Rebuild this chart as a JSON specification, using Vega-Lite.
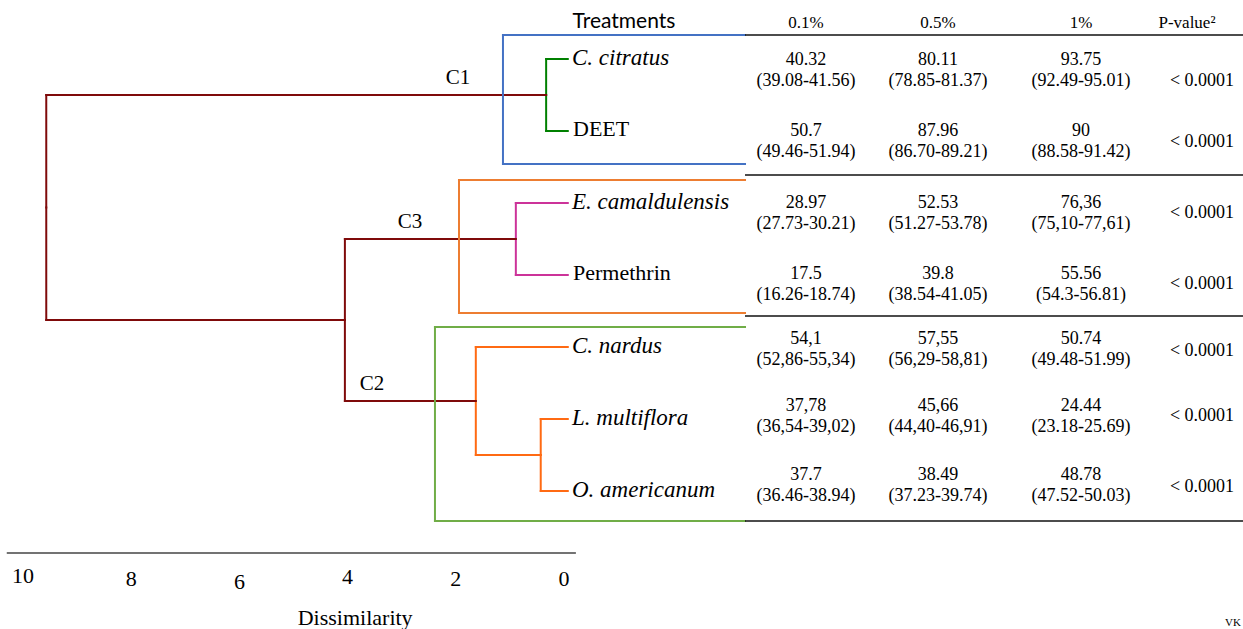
{
  "$schema": "https://vega.github.io/schema/vega-lite/v6.json",
  "width": 1243,
  "height": 629,
  "autosize": {"type": "none"},
  "padding": 0,
  "background": "white",
  "config": {"view": {"stroke": null}},
  "datasets": {
    "links": [
      {"parent": "root", "child": "N1", "grp": "root", "dp": 9.57, "up": 2.0625, "dc": 0.33, "uc": 0.5},
      {"parent": "root", "child": "N5", "grp": "root", "dp": 9.57, "up": 2.0625, "dc": 4.05, "uc": 3.625},
      {"parent": "N5", "child": "N2", "grp": "root", "dp": 4.05, "up": 3.625, "dc": 0.89, "uc": 2.5},
      {"parent": "N5", "child": "N4", "grp": "root", "dp": 4.05, "up": 3.625, "dc": 1.63, "uc": 4.75},
      {"parent": "N1", "child": "C. citratus", "grp": "C1", "dp": 0.33, "up": 0.5, "dc": -0.07, "uc": 0},
      {"parent": "N1", "child": "DEET", "grp": "C1", "dp": 0.33, "up": 0.5, "dc": -0.07, "uc": 1},
      {"parent": "N2", "child": "E. camaldulensis", "grp": "C3", "dp": 0.89, "up": 2.5, "dc": -0.07, "uc": 2},
      {"parent": "N2", "child": "Permethrin", "grp": "C3", "dp": 0.89, "up": 2.5, "dc": -0.07, "uc": 3},
      {"parent": "N4", "child": "C. nardus", "grp": "C2", "dp": 1.63, "up": 4.75, "dc": -0.07, "uc": 4},
      {"parent": "N4", "child": "N3", "grp": "C2", "dp": 1.63, "up": 4.75, "dc": 0.43, "uc": 5.5},
      {"parent": "N3", "child": "L. multiflora", "grp": "C2", "dp": 0.43, "up": 5.5, "dc": -0.07, "uc": 5},
      {"parent": "N3", "child": "O. americanum", "grp": "C2", "dp": 0.43, "up": 5.5, "dc": -0.07, "uc": 6}
    ],
    "leaves": [
      {"name": "C. citratus", "d": 0, "u": 0, "kind": "plant"},
      {"name": "DEET", "d": 0, "u": 1, "kind": "synthetic"},
      {"name": "E. camaldulensis", "d": 0, "u": 2, "kind": "plant"},
      {"name": "Permethrin", "d": 0, "u": 3, "kind": "synthetic"},
      {"name": "C. nardus", "d": 0, "u": 4, "kind": "plant"},
      {"name": "L. multiflora", "d": 0, "u": 5, "kind": "plant"},
      {"name": "O. americanum", "d": 0, "u": 6, "kind": "plant"}
    ],
    "boxes": [
      {"cluster": "C1", "left": 1.128, "right": -3.346, "top": -0.333, "bottom": 1.458, "labelD": 1.959, "nodeU": 0.5},
      {"cluster": "C3", "left": 1.941, "right": -3.346, "top": 1.681, "bottom": 3.528, "labelD": 2.847, "nodeU": 2.5},
      {"cluster": "C2", "left": 2.385, "right": -3.346, "top": 3.722, "bottom": 6.417, "labelD": 3.549, "nodeU": 4.75}
    ],
    "tableLines": [
      {"d1": -3.346, "d2": -12.6, "u": -0.333},
      {"d1": -3.346, "d2": -12.6, "u": 1.611},
      {"d1": -3.346, "d2": -12.6, "u": 3.569},
      {"d1": -3.346, "d2": -12.6, "u": 6.417}
    ],
    "scaleBar": [{"d1": 10.3, "d2": -0.22, "u": 6.861}],
    "scaleTicks": [
      {"value": 10, "u": 7.18},
      {"value": 8, "u": 7.22},
      {"value": 6, "u": 7.26},
      {"value": 4, "u": 7.2},
      {"value": 2, "u": 7.22},
      {"value": 0, "u": 7.22}
    ],
    "notes": [
      {"label": "Dissimilarity", "d": 3.86, "u": 7.764, "size": "large"},
      {"label": "VK", "d": -12.366, "u": 7.833, "size": "small"}
    ],
    "headers": [
      {"label": "Treatments", "col": 0, "row": 0},
      {"label": "0.1%", "col": 1, "row": 0},
      {"label": "0.5%", "col": 2, "row": 0},
      {"label": "1%", "col": 3, "row": 0},
      {"label": "P-value²", "col": 4, "row": 0}
    ],
    "table": [
      {"treatment": "C. citratus", "row": 1, "col": 1, "mean": "40.32", "ci": "(39.08-41.56)"},
      {"treatment": "C. citratus", "row": 1, "col": 2, "mean": "80.11", "ci": "(78.85-81.37)"},
      {"treatment": "C. citratus", "row": 1, "col": 3, "mean": "93.75", "ci": "(92.49-95.01)"},
      {"treatment": "DEET", "row": 2, "col": 1, "mean": "50.7", "ci": "(49.46-51.94)"},
      {"treatment": "DEET", "row": 2, "col": 2, "mean": "87.96", "ci": "(86.70-89.21)"},
      {"treatment": "DEET", "row": 2, "col": 3, "mean": "90", "ci": "(88.58-91.42)"},
      {"treatment": "E. camaldulensis", "row": 3, "col": 1, "mean": "28.97", "ci": "(27.73-30.21)"},
      {"treatment": "E. camaldulensis", "row": 3, "col": 2, "mean": "52.53", "ci": "(51.27-53.78)"},
      {"treatment": "E. camaldulensis", "row": 3, "col": 3, "mean": "76,36", "ci": "(75,10-77,61)"},
      {"treatment": "Permethrin", "row": 4, "col": 1, "mean": "17.5", "ci": "(16.26-18.74)"},
      {"treatment": "Permethrin", "row": 4, "col": 2, "mean": "39.8", "ci": "(38.54-41.05)"},
      {"treatment": "Permethrin", "row": 4, "col": 3, "mean": "55.56", "ci": "(54.3-56.81)"},
      {"treatment": "C. nardus", "row": 5, "col": 1, "mean": "54,1", "ci": "(52,86-55,34)"},
      {"treatment": "C. nardus", "row": 5, "col": 2, "mean": "57,55", "ci": "(56,29-58,81)"},
      {"treatment": "C. nardus", "row": 5, "col": 3, "mean": "50.74", "ci": "(49.48-51.99)"},
      {"treatment": "L. multiflora", "row": 6, "col": 1, "mean": "37,78", "ci": "(36,54-39,02)"},
      {"treatment": "L. multiflora", "row": 6, "col": 2, "mean": "45,66", "ci": "(44,40-46,91)"},
      {"treatment": "L. multiflora", "row": 6, "col": 3, "mean": "24.44", "ci": "(23.18-25.69)"},
      {"treatment": "O. americanum", "row": 7, "col": 1, "mean": "37.7", "ci": "(36.46-38.94)"},
      {"treatment": "O. americanum", "row": 7, "col": 2, "mean": "38.49", "ci": "(37.23-39.74)"},
      {"treatment": "O. americanum", "row": 7, "col": 3, "mean": "48.78", "ci": "(47.52-50.03)"}
    ],
    "pvalues": [
      {"treatment": "C. citratus", "row": 1, "col": 4, "p": "< 0.0001"},
      {"treatment": "DEET", "row": 2, "col": 4, "p": "< 0.0001"},
      {"treatment": "E. camaldulensis", "row": 3, "col": 4, "p": "< 0.0001"},
      {"treatment": "Permethrin", "row": 4, "col": 4, "p": "< 0.0001"},
      {"treatment": "C. nardus", "row": 5, "col": 4, "p": "< 0.0001"},
      {"treatment": "L. multiflora", "row": 6, "col": 4, "p": "< 0.0001"},
      {"treatment": "O. americanum", "row": 7, "col": 4, "p": "< 0.0001"}
    ]
  },
  "layer": [
    {
      "resolve": {"scale": {"color": "independent"}},
      "layer": [
        {
          "data": {"name": "links"},
          "mark": {"type": "rule", "strokeWidth": 2, "strokeCap": "square"},
          "encoding": {
            "x": {"field": "dp", "type": "quantitative", "scale": {"domain": [-12.551, 10.425], "reverse": true, "nice": false, "zero": false}, "axis": null},
            "y": {"field": "up", "type": "quantitative", "scale": {"domain": [-0.8194, 7.9167], "reverse": true, "nice": false, "zero": false}, "axis": null},
            "y2": {"field": "uc"},
            "color": {"field": "grp", "type": "nominal", "scale": {"domain": ["root", "C1", "C3", "C2"], "range": ["#7F0A0A", "#008000", "#CC3399", "#FF6A13"]}, "legend": null}
          }
        },
        {
          "data": {"name": "links"},
          "mark": {"type": "rule", "strokeWidth": 2, "strokeCap": "square"},
          "encoding": {
            "x": {"field": "dp", "type": "quantitative", "scale": {"domain": [-12.551, 10.425], "reverse": true, "nice": false, "zero": false}, "axis": null},
            "x2": {"field": "dc"},
            "y": {"field": "uc", "type": "quantitative", "scale": {"domain": [-0.8194, 7.9167], "reverse": true, "nice": false, "zero": false}, "axis": null},
            "color": {"field": "grp", "type": "nominal", "scale": {"domain": ["root", "C1", "C3", "C2"], "range": ["#7F0A0A", "#008000", "#CC3399", "#FF6A13"]}, "legend": null}
          }
        },
        {
          "data": {"name": "boxes"},
          "mark": {"type": "rule", "strokeWidth": 2, "strokeCap": "square"},
          "encoding": {
            "x": {"field": "left", "type": "quantitative", "scale": {"domain": [-12.551, 10.425], "reverse": true, "nice": false, "zero": false}, "axis": null},
            "x2": {"field": "right"},
            "y": {"field": "top", "type": "quantitative", "scale": {"domain": [-0.8194, 7.9167], "reverse": true, "nice": false, "zero": false}, "axis": null},
            "color": {"field": "cluster", "type": "nominal", "scale": {"domain": ["C1", "C3", "C2"], "range": ["#4472C4", "#ED7D31", "#70AD47"]}, "legend": null}
          }
        },
        {
          "data": {"name": "boxes"},
          "mark": {"type": "rule", "strokeWidth": 2, "strokeCap": "square"},
          "encoding": {
            "x": {"field": "left", "type": "quantitative", "scale": {"domain": [-12.551, 10.425], "reverse": true, "nice": false, "zero": false}, "axis": null},
            "x2": {"field": "right"},
            "y": {"field": "bottom", "type": "quantitative", "scale": {"domain": [-0.8194, 7.9167], "reverse": true, "nice": false, "zero": false}, "axis": null},
            "color": {"field": "cluster", "type": "nominal", "scale": {"domain": ["C1", "C3", "C2"], "range": ["#4472C4", "#ED7D31", "#70AD47"]}, "legend": null}
          }
        },
        {
          "data": {"name": "boxes"},
          "mark": {"type": "rule", "strokeWidth": 2, "strokeCap": "square"},
          "encoding": {
            "x": {"field": "left", "type": "quantitative", "scale": {"domain": [-12.551, 10.425], "reverse": true, "nice": false, "zero": false}, "axis": null},
            "y": {"field": "top", "type": "quantitative", "scale": {"domain": [-0.8194, 7.9167], "reverse": true, "nice": false, "zero": false}, "axis": null},
            "y2": {"field": "bottom"},
            "color": {"field": "cluster", "type": "nominal", "scale": {"domain": ["C1", "C3", "C2"], "range": ["#4472C4", "#ED7D31", "#70AD47"]}, "legend": null}
          }
        },
        {
          "data": {"name": "boxes"},
          "mark": {"type": "text", "font": "Liberation Serif", "fontSize": 21, "color": "black", "align": "center", "baseline": "middle", "dy": -17},
          "encoding": {
            "x": {"field": "labelD", "type": "quantitative", "scale": {"domain": [-12.551, 10.425], "reverse": true, "nice": false, "zero": false}, "axis": null},
            "y": {"field": "nodeU", "type": "quantitative", "scale": {"domain": [-0.8194, 7.9167], "reverse": true, "nice": false, "zero": false}, "axis": null},
            "text": {"field": "cluster"}
          }
        },
        {
          "data": {"name": "leaves"},
          "transform": [{"filter": "datum.kind === 'plant'"}],
          "mark": {"type": "text", "font": "Liberation Serif", "fontStyle": "italic", "fontSize": 23, "color": "black", "align": "left", "baseline": "middle", "dx": 8, "dy": -1},
          "encoding": {
            "x": {"field": "d", "type": "quantitative", "scale": {"domain": [-12.551, 10.425], "reverse": true, "nice": false, "zero": false}, "axis": null},
            "y": {"field": "u", "type": "quantitative", "scale": {"domain": [-0.8194, 7.9167], "reverse": true, "nice": false, "zero": false}, "axis": null},
            "text": {"field": "name"}
          }
        },
        {
          "data": {"name": "leaves"},
          "transform": [{"filter": "datum.kind !== 'plant'"}],
          "mark": {"type": "text", "font": "Liberation Serif", "fontSize": 22, "color": "black", "align": "left", "baseline": "middle", "dx": 9, "dy": -2},
          "encoding": {
            "x": {"field": "d", "type": "quantitative", "scale": {"domain": [-12.551, 10.425], "reverse": true, "nice": false, "zero": false}, "axis": null},
            "y": {"field": "u", "type": "quantitative", "scale": {"domain": [-0.8194, 7.9167], "reverse": true, "nice": false, "zero": false}, "axis": null},
            "text": {"field": "name"}
          }
        },
        {
          "data": {"name": "tableLines"},
          "mark": {"type": "rule", "strokeWidth": 1.5, "color": "#111111"},
          "encoding": {
            "x": {"field": "d1", "type": "quantitative", "scale": {"domain": [-12.551, 10.425], "reverse": true, "nice": false, "zero": false}, "axis": null},
            "x2": {"field": "d2"},
            "y": {"field": "u", "type": "quantitative", "scale": {"domain": [-0.8194, 7.9167], "reverse": true, "nice": false, "zero": false}, "axis": null}
          }
        },
        {
          "data": {"name": "scaleBar"},
          "mark": {"type": "rule", "strokeWidth": 1.5, "color": "#444444"},
          "encoding": {
            "x": {"field": "d1", "type": "quantitative", "scale": {"domain": [-12.551, 10.425], "reverse": true, "nice": false, "zero": false}, "axis": null},
            "x2": {"field": "d2"},
            "y": {"field": "u", "type": "quantitative", "scale": {"domain": [-0.8194, 7.9167], "reverse": true, "nice": false, "zero": false}, "axis": null}
          }
        },
        {
          "data": {"name": "scaleTicks"},
          "mark": {"type": "text", "font": "Liberation Serif", "fontSize": 22, "color": "black", "align": "center", "baseline": "middle"},
          "encoding": {
            "x": {"field": "value", "type": "quantitative", "scale": {"domain": [-12.551, 10.425], "reverse": true, "nice": false, "zero": false}, "axis": null},
            "y": {"field": "u", "type": "quantitative", "scale": {"domain": [-0.8194, 7.9167], "reverse": true, "nice": false, "zero": false}, "axis": null},
            "text": {"field": "value"}
          }
        },
        {
          "data": {"name": "notes"},
          "transform": [{"filter": "datum.size === 'large'"}],
          "mark": {"type": "text", "font": "Liberation Serif", "fontSize": 22, "color": "black", "align": "center", "baseline": "middle"},
          "encoding": {
            "x": {"field": "d", "type": "quantitative", "scale": {"domain": [-12.551, 10.425], "reverse": true, "nice": false, "zero": false}, "axis": null},
            "y": {"field": "u", "type": "quantitative", "scale": {"domain": [-0.8194, 7.9167], "reverse": true, "nice": false, "zero": false}, "axis": null},
            "text": {"field": "label"}
          }
        },
        {
          "data": {"name": "notes"},
          "transform": [{"filter": "datum.size === 'small'"}],
          "mark": {"type": "text", "font": "Liberation Serif", "fontSize": 11, "color": "black", "align": "center", "baseline": "middle"},
          "encoding": {
            "x": {"field": "d", "type": "quantitative", "scale": {"domain": [-12.551, 10.425], "reverse": true, "nice": false, "zero": false}, "axis": null},
            "y": {"field": "u", "type": "quantitative", "scale": {"domain": [-0.8194, 7.9167], "reverse": true, "nice": false, "zero": false}, "axis": null},
            "text": {"field": "label"}
          }
        }
      ]
    },
    {
      "layer": [
        {
          "data": {"name": "headers"},
          "transform": [{"filter": "datum.col === 0"}],
          "mark": {"type": "text", "font": "Lato", "fontSize": 21, "color": "black", "align": "center", "baseline": "middle", "dy": -1},
          "encoding": {
            "x": {"field": "col", "type": "quantitative", "scale": {"domain": [0, 1, 2, 3, 4], "range": [624, 806, 938, 1081, 1187], "nice": false, "zero": false}, "axis": null},
            "y": {"field": "row", "type": "quantitative", "scale": {"domain": [0, 1, 2, 3, 4, 5, 6, 7], "range": [23, 60, 131, 203, 274, 339, 406, 475], "nice": false, "zero": false}, "axis": null},
            "text": {"field": "label"}
          }
        },
        {
          "data": {"name": "headers"},
          "transform": [{"filter": "datum.col > 0"}],
          "mark": {"type": "text", "font": "Liberation Serif", "fontSize": 17, "color": "black", "align": "center", "baseline": "middle"},
          "encoding": {
            "x": {"field": "col", "type": "quantitative", "scale": {"domain": [0, 1, 2, 3, 4], "range": [624, 806, 938, 1081, 1187], "nice": false, "zero": false}, "axis": null},
            "y": {"field": "row", "type": "quantitative", "scale": {"domain": [0, 1, 2, 3, 4, 5, 6, 7], "range": [23, 60, 131, 203, 274, 339, 406, 475], "nice": false, "zero": false}, "axis": null},
            "text": {"field": "label"}
          }
        },
        {
          "data": {"name": "table"},
          "mark": {"type": "text", "font": "Liberation Serif", "fontSize": 18, "color": "black", "align": "center", "baseline": "middle"},
          "encoding": {
            "x": {"field": "col", "type": "quantitative", "scale": {"domain": [0, 1, 2, 3, 4], "range": [624, 806, 938, 1081, 1187], "nice": false, "zero": false}, "axis": null},
            "y": {"field": "row", "type": "quantitative", "scale": {"domain": [0, 1, 2, 3, 4, 5, 6, 7], "range": [23, 60, 131, 203, 274, 339, 406, 475], "nice": false, "zero": false}, "axis": null},
            "text": {"field": "mean"}
          }
        },
        {
          "data": {"name": "table"},
          "mark": {"type": "text", "font": "Liberation Serif", "fontSize": 18, "color": "black", "align": "center", "baseline": "middle", "dy": 21},
          "encoding": {
            "x": {"field": "col", "type": "quantitative", "scale": {"domain": [0, 1, 2, 3, 4], "range": [624, 806, 938, 1081, 1187], "nice": false, "zero": false}, "axis": null},
            "y": {"field": "row", "type": "quantitative", "scale": {"domain": [0, 1, 2, 3, 4, 5, 6, 7], "range": [23, 60, 131, 203, 274, 339, 406, 475], "nice": false, "zero": false}, "axis": null},
            "text": {"field": "ci"}
          }
        }
      ]
    },
    {
      "data": {"name": "pvalues"},
      "mark": {"type": "text", "font": "Liberation Serif", "fontSize": 18, "color": "black", "align": "center", "baseline": "middle"},
      "encoding": {
        "x": {"field": "col", "type": "quantitative", "scale": {"domain": [0, 1, 2, 3, 4], "range": [624, 806, 938, 1081, 1202], "nice": false, "zero": false}, "axis": null},
        "y": {"field": "row", "type": "quantitative", "scale": {"domain": [1, 2, 3, 4, 5, 6, 7], "range": [81, 142, 213, 284, 351, 416, 487], "nice": false, "zero": false}, "axis": null},
        "text": {"field": "p"}
      }
    }
  ],
  "resolve": {"scale": {"x": "independent", "y": "independent"}}
}
